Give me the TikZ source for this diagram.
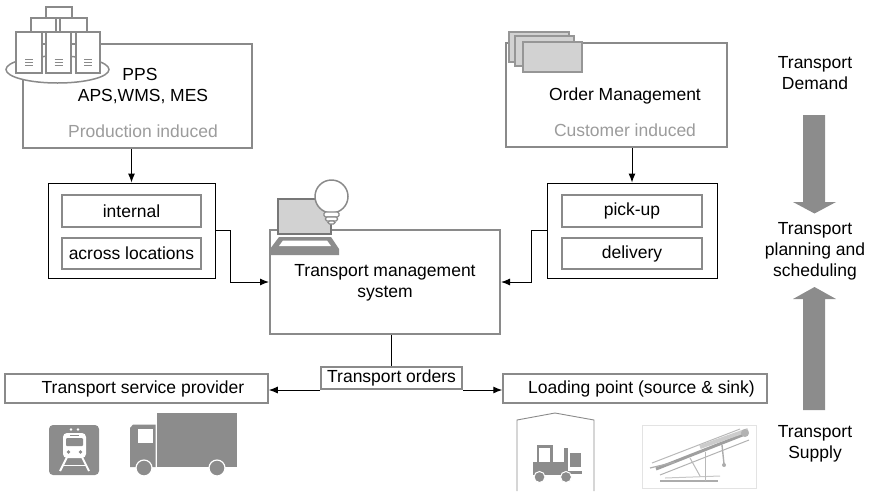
\documentclass[tikz,border=0pt]{standalone}
\usepackage{fontspec}
\setmainfont{Liberation Sans}
\usetikzlibrary{arrows.meta}
\definecolor{frame}{HTML}{8A8A8A}
\definecolor{softtext}{HTML}{9C9C9C}
\definecolor{icon}{HTML}{8C8C8C}
\definecolor{iconlight}{HTML}{D2D2D2}

\begin{document}
\begin{tikzpicture}[x=1pt,y=-1pt,
  lbl/.style={inner sep=0pt, font=\fontsize{17.5}{21}\selectfont, text=black, align=center},
  softlbl/.style={lbl, text=softtext},
  sysbox/.style={draw=frame, line width=1.5pt, fill=white, inner sep=0pt},
  grpbox/.style={draw=black, line width=0.9pt, fill=white, inner sep=0pt},
  itembox/.style={draw=frame, line width=2pt, fill=white, inner sep=0pt},
  conn/.style={draw=black, line width=1pt},
  arr/.style={conn, -{Latex[length=9pt,width=7pt]}},
  bigarrow/.style={fill=icon},
  iconline/.style={draw=frame, line width=1.5pt, fill=white}
]
\useasboundingbox (0,0) rectangle (874,491);

% ---------- top systems ----------
\node[sysbox, minimum width=229, minimum height=104] (ppsbox) at (137.5,96) {};
\node[lbl] (pps) at (140,74) {PPS};
\node[lbl] (aps) at (143,97) {APS,WMS, MES};
\node[softlbl] (prod) at (143,131) {Production induced};

\node[sysbox, minimum width=221, minimum height=104] (ombox) at (616.5,95) {};
\node[lbl] (om) at (625,96) {Order Management};
\node[softlbl] (cust) at (625,130) {Customer induced};

% server stack
\filldraw[iconline] (57.5,69.5) ellipse [x radius=51.5, y radius=13.5];
\filldraw[iconline] (46,7) rectangle (72,18);
\filldraw[iconline] (31,18) rectangle (56,32);
\filldraw[iconline] (60,18) rectangle (87,32);
\foreach \l/\r in {16/42, 46/71, 76/100}{
  \filldraw[iconline] (\l,32) rectangle (\r,73);
  \foreach \yy in {59,62,65}
    \draw[frame, line width=0.8pt] ({(\l+\r)/2-4},\yy) -- ({(\l+\r)/2+4},\yy);
}

% document stack
\foreach \ax/\ay/\bx/\by in {509/32/569/62, 515/36/574/66, 523/42/582/72}
  \filldraw[fill=iconlight, draw=frame!90, line width=1.3pt] (\ax,\ay) rectangle (\bx,\by);

% ---------- order categories ----------
\node[grpbox, minimum width=167, minimum height=95] (leftgrp) at (131.5,230.5) {};
\node[itembox, minimum width=139, minimum height=32] (internal) at (131.5,211) {};
\node[itembox, minimum width=139, minimum height=31] (across) at (131.5,253.5) {};
\node[lbl] at (internal) {internal};
\node[lbl] at (across) {across locations};

\node[grpbox, minimum width=170, minimum height=95] (rightgrp) at (632,230.5) {};
\node[itembox, minimum width=140, minimum height=32] (pickup) at (632,211) {};
\node[itembox, minimum width=140, minimum height=31] (delivery) at (632,253.5) {};
\node[lbl] at (pickup) {pick-up};
\node[lbl] at (delivery) {delivery};

% ---------- transport management system ----------
\node[sysbox, line width=2pt, minimum width=230, minimum height=104] (tms) at (385,282) {};
\node[lbl] (tmstext) at (385,282.5) {Transport management\\system};

% laptop
\filldraw[fill=iconlight, draw=icon!85!black, line width=2pt] (278,199) rectangle (331,234);
\fill[icon] (279,237) -- (331,237) -- (339,249) -- (339,255) -- (270,255) -- (270,249) -- cycle;
\fill[white] (283,240.5) -- (327,240.5) -- (331,246) -- (279,246) -- cycle;
% light bulb
\filldraw[fill=white, draw=frame, line width=1.5pt] (331.5,196.5) circle (16.5);
\filldraw[fill=white, draw=frame, line width=1.3pt, rounded corners=1.5pt] (324,212) rectangle (339,217);
\filldraw[fill=white, draw=frame, line width=1.3pt, rounded corners=1.5pt] (325.5,217) rectangle (337.5,221);
\filldraw[fill=white, draw=frame, line width=1.3pt, rounded corners=1.5pt] (328,221) rectangle (335,224);

% ---------- orders and receivers ----------
\node[itembox, minimum width=141, minimum height=22] (orders) at (391.5,378) {};
\node[lbl] at (orders) {Transport orders};

\node[sysbox, minimum width=263, minimum height=29] (tsp) at (136.5,388.5) {};
\node[lbl] at (143,388.5) {Transport service provider};

\node[sysbox, minimum width=264, minimum height=29] (lp) at (635,388.5) {};
\node[lbl] at (641.5,388.5) {Loading point (source \& sink)};

% ---------- connectors ----------
\draw[arr] (ppsbox.south -| leftgrp.north) -- (leftgrp.north);
\draw[arr] (ombox.south -| rightgrp.north) -- (rightgrp.north);
\draw[arr] (leftgrp.east) -- ++(15,0) |- (tms.west);
\draw[arr] (rightgrp.west) -- ++(-15,0) |- (tms.east);
\draw[conn] (tms.south -| orders.north) -- (orders.north);
\draw[arr] (orders.south west) -- (orders.south west -| tsp.east);
\draw[arr] (orders.south east) -- (orders.south east -| lp.west);

% ---------- carriers ----------
% train
\fill[icon, rounded corners=4pt] (49,425) rectangle (99,475);
\fill[white, rounded corners=4pt] (63,433) rectangle (86,458);
\fill[icon, rounded corners=1pt] (66,438) rectangle (83,446);
\fill[icon] (70,434.5) rectangle (79,436);
\fill[icon] (68.5,452) circle (1.8);
\fill[icon] (80.5,452) circle (1.8);
\fill[white] (71,429.5) circle (1.4);
\fill[white] (78,429.5) circle (1.4);
\draw[white, line width=2pt] (67,457) -- (60,471);
\draw[white, line width=2pt] (82,457) -- (89,471);
\draw[white, line width=1.6pt] (63,465.5) -- (86,465.5);

% truck
\fill[icon] (157,413) rectangle (237,467);
\fill[icon] (130,428) -- (133,424.5) -- (155.5,424.5) -- (155.5,467) -- (130,467) -- cycle;
\fill[white] (138,428.5) rectangle (153,443);
\filldraw[fill=icon, draw=white, line width=1.2pt] (144,468) circle (8);
\filldraw[fill=icon, draw=white, line width=1.2pt] (217,468) circle (8);

% warehouse with forklift
\draw[frame, line width=0.9pt] (517,491) -- (517,420) -- (555,413) -- (594,420) -- (594,491);
\draw[icon, line width=2.6pt] (538,462) -- (538,446.5) -- (551.5,446.5) -- (551.5,462);
\fill[icon] (533,462) rectangle (564,475);
\fill[icon] (564,448) rectangle (568,475);
\fill[icon] (568,470.5) rectangle (582,474);
\fill[icon] (570,453) rectangle (581,467);
\filldraw[fill=icon, draw=white, line width=1pt] (539.5,477) circle (5.5);
\filldraw[fill=icon, draw=white, line width=1pt] (566,477) circle (5.5);

% conveyor sketch
\draw[gray!22, line width=0.8pt] (642,425) rectangle (756,488);
\draw[gray!55, line width=1pt] (652,463) -- (740,429);
\draw[gray!75, line width=3pt] (656,469) -- (745,434);
\draw[gray!60, line width=1pt] (660,475) -- (749,440);
\draw[gray!40, line width=4pt] (700,447) -- (748,430);
\draw[gray!65, line width=1.2pt] (650,468) -- (675,462);
\draw[gray!65, line width=1.8pt] (660,481) -- (718,481);
\draw[gray!45, line width=1pt] (665,478) -- (720,476);
\draw[gray!55, line width=1pt] (705,452) -- (705,481);
\draw[gray!65, line width=1.4pt] (722,445) -- (724,464);
\fill[gray!65] (724,465) circle (2);
\fill[gray!60] (745,433) circle (4);
\draw[gray!55, line width=1pt] (690,458) -- (700,476);

% ---------- demand / supply axis ----------
\node[lbl] (demand) at (815,73) {Transport\\Demand};
\node[lbl] (planning) at (815,251) {Transport\\planning and\\scheduling};
\node[lbl] (supply) at (815,444) {Transport\\Supply};
\fill[bigarrow] (803,115) -- (825,115) -- (825,202) -- (836,202) -- (814.5,213.5) -- (793,202) -- (803,202) -- cycle;
\fill[bigarrow] (803,410) -- (825,410) -- (825,299) -- (836,299) -- (814.5,287) -- (793,299) -- (803,299) -- cycle;
\end{tikzpicture}
\end{document}
